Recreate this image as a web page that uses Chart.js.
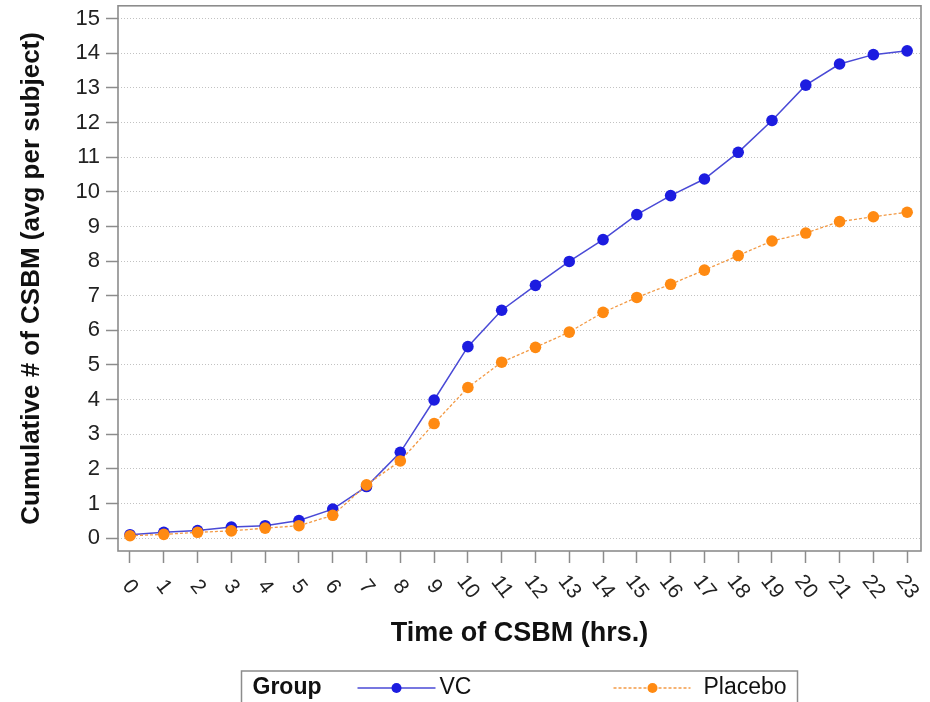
<!DOCTYPE html>
<html>
<head>
<meta charset="utf-8">
<script src="https://cdn.jsdelivr.net/npm/chart.js@4.4.1/dist/chart.umd.min.js"></script>
<style>
  html, body { margin: 0; padding: 0; background: #ffffff; }
  #wrap { position: relative; width: 930px; height: 702px; }
</style>
</head>
<body>
<div id="wrap"><canvas id="c" width="930" height="702"></canvas></div>
<script>
// ---- data ----
const hours = [0,1,2,3,4,5,6,7,8,9,10,11,12,13,14,15,16,17,18,19,20,21,22,23];
const vcValues = [0.10,0.17,0.22,0.32,0.36,0.51,0.84,1.49,2.48,3.99,5.53,6.58,7.30,7.99,8.62,9.34,9.89,10.37,11.14,12.06,13.08,13.69,13.96,14.07];
const placeboValues = [0.07,0.11,0.17,0.21,0.29,0.36,0.66,1.54,2.23,3.31,4.35,5.08,5.51,5.95,6.52,6.95,7.33,7.74,8.16,8.58,8.81,9.14,9.28,9.41];
const seriesNames = ['VC', 'Placebo'];
const legendTitle = 'Group';
const xTitle = 'Time of CSBM (hrs.)';
const yTitle = 'Cumulative # of CSBM (avg per subject)';

const FONT = '"Liberation Sans", Arial, sans-serif';
const VC_POINT = '#1c1ce0';
const VC_LINE = '#4a4ad6';
const PL_POINT = '#ff8a12';
const PL_LINE = '#f39a45';
const FRAME = '#8c8c8c';

const toXY = (vals) => hours.map((h, i) => ({x: h, y: vals[i]}));

const framePlugin = {
  id: 'frame',
  beforeDatasetsDraw(chart) {
    const a = chart.chartArea, ctx = chart.ctx;
    ctx.save();
    ctx.strokeStyle = FRAME;
    ctx.lineWidth = 1.6;
    ctx.strokeRect(a.left, a.top, a.right - a.left, a.bottom - a.top);
    ctx.restore();
  }
};

const xLabelPlugin = {
  id: 'xlabels',
  afterDraw(chart) {
    const sc = chart.scales.x, ctx = chart.ctx;
    ctx.save();
    ctx.fillStyle = '#222';
    ctx.font = '21px ' + FONT;
    ctx.textAlign = 'center';
    ctx.textBaseline = 'middle';
    sc.ticks.forEach(t => {
      const px = sc.getPixelForValue(t.value);
      ctx.save();
      ctx.translate(px, sc.top + 36);
      ctx.rotate(52 * Math.PI / 180);
      ctx.fillText(String(t.value), 0, 0);
      ctx.restore();
    });
    ctx.restore();
  }
};

const legendPlugin = {
  id: 'boxlegend',
  afterDraw(chart) {
    const a = chart.chartArea, ctx = chart.ctx;
    const cx = (a.left + a.right) / 2;
    const left = cx - 278, top = 671, w = 556, h = 40, cy = 688;
    ctx.save();
    ctx.strokeStyle = FRAME;
    ctx.lineWidth = 1.5;
    ctx.strokeRect(left, top, w, h);
    ctx.fillStyle = '#111';
    ctx.textBaseline = 'middle';
    ctx.textAlign = 'left';
    ctx.font = 'bold 23px ' + FONT;
    ctx.fillText(legendTitle, left + 11, cy);
    const ds = chart.data.datasets;
    const items = [
      {x0: left + 116, x1: left + 194, dot: left + 155, tx: left + 198, d: ds[0]},
      {x0: left + 372, x1: left + 449, dot: left + 411, tx: left + 462, d: ds[1]}
    ];
    items.forEach(it => {
      ctx.save();
      ctx.strokeStyle = it.d.borderColor;
      ctx.lineWidth = it.d.borderWidth;
      ctx.setLineDash(it.d.borderDash || []);
      ctx.beginPath();
      ctx.moveTo(it.x0, cy);
      ctx.lineTo(it.x1, cy);
      ctx.stroke();
      ctx.restore();
      ctx.beginPath();
      ctx.fillStyle = it.d.pointBackgroundColor;
      ctx.arc(it.dot, cy, 5, 0, Math.PI * 2);
      ctx.fill();
      ctx.fillStyle = '#111';
      ctx.font = '23px ' + FONT;
      ctx.fillText(it.d.label, it.tx, cy);
    });
    ctx.restore();
  }
};

new Chart(document.getElementById('c'), {
  type: 'line',
  data: {
    datasets: [
      {
        label: seriesNames[0],
        data: toXY(vcValues),
        borderColor: VC_LINE,
        borderWidth: 1.5,
        pointBackgroundColor: VC_POINT,
        pointBorderColor: VC_POINT,
        pointRadius: 5.8,
        pointBorderWidth: 0,
        tension: 0,
        order: 1
      },
      {
        label: seriesNames[1],
        data: toXY(placeboValues),
        borderColor: PL_LINE,
        borderWidth: 1.3,
        borderDash: [3, 2],
        pointBackgroundColor: PL_POINT,
        pointBorderColor: PL_POINT,
        pointRadius: 5.8,
        pointBorderWidth: 0,
        tension: 0,
        order: 0
      }
    ]
  },
  options: {
    responsive: false,
    animation: false,
    devicePixelRatio: 1,
    layout: { padding: { top: 3, right: 9, bottom: 47, left: 0 } },
    plugins: { legend: { display: false }, tooltip: { enabled: false } },
    scales: {
      x: {
        type: 'linear',
        min: -0.355,
        max: 23.41,
        ticks: { display: false, stepSize: 1, includeBounds: false },
        grid: { drawOnChartArea: false, drawTicks: true, tickLength: 12, tickColor: FRAME, tickWidth: 1.5 },
        border: { display: false },
        title: { display: true, text: xTitle, color: '#111', font: { family: FONT, size: 27, weight: 'bold' }, padding: { top: 61, bottom: 5 } },
        afterFit(scale) { scale.height = 104; scale.paddingLeft = 0; scale.paddingRight = 0; }
      },
      y: {
        min: -0.37,
        max: 15.37,
        ticks: { stepSize: 1, includeBounds: false, color: '#222', padding: 6, font: { family: FONT, size: 22 } },
        grid: { color: '#c2c2c2', lineWidth: 1, tickLength: 12, tickColor: FRAME, tickWidth: 1.5 },
        border: { display: false, dash: [1, 2] },
        title: { display: true, text: yTitle, color: '#111', font: { family: FONT, size: 26, weight: 'bold' }, padding: { top: 16, bottom: 0 } },
        afterFit(scale) { scale.width = 118; scale.paddingTop = 0; scale.paddingBottom = 0; }
      }
    }
  },
  plugins: [framePlugin, xLabelPlugin, legendPlugin]
});
</script>
</body>
</html>
